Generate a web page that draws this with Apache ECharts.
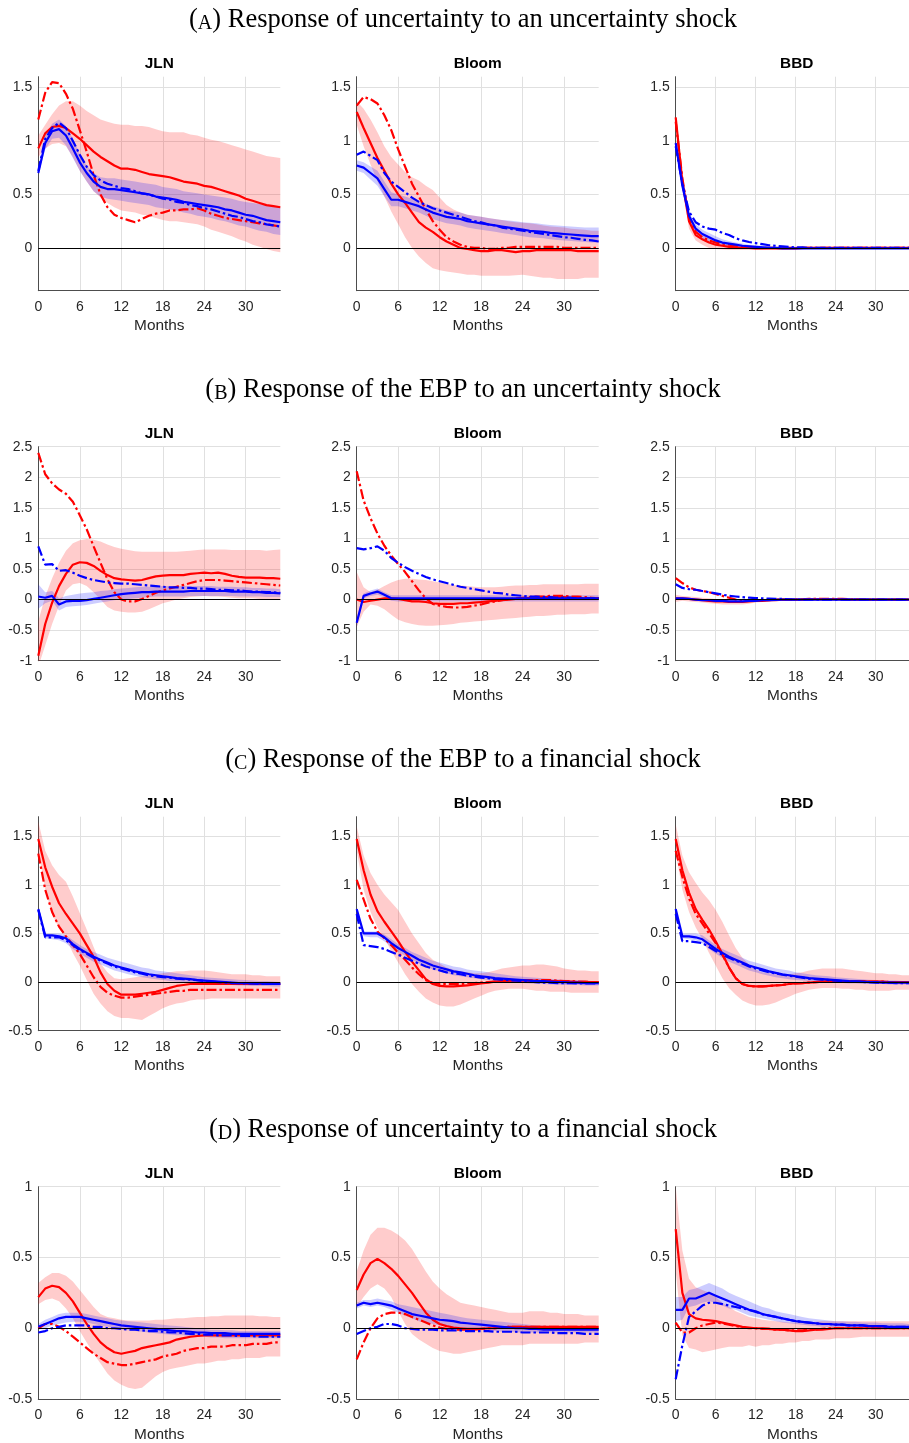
<!DOCTYPE html>
<html><head><meta charset="utf-8">
<script src="https://cdn.jsdelivr.net/npm/echarts@6/dist/echarts.min.js"></script>
<style>html,body{margin:0;padding:0;background:#fff;overflow:hidden}#c{width:909px;height:1443px}</style>
</head><body><div id="c"></div>
<script>
// ---------- DATA ----------
const months = [0,1,2,3,4,5,6,7,8,9,10,11,12,13,14,15,16,17,18,19,20,21,22,23,24,25,26,27,28,29,30,31,32,33,34,35];
const xTicks = [0,6,12,18,24,30];
const rowLetters = ['A','B','C','D'];
const rowTitles = ['Response of uncertainty to an uncertainty shock','Response of the EBP to an uncertainty shock','Response of the EBP to a financial shock','Response of uncertainty to a financial shock'];
const colNames = ['JLN','Bloom','BBD'];
const yMins = [-0.4,-1,-0.5,-0.5];
const yMaxs = [1.6,2.5,1.7,1];
const yTicks = [[0,0.5,1,1.5],[-1,-0.5,0,0.5,1,1.5,2,2.5],[-0.5,0,0.5,1,1.5],[-0.5,0,0.5,1]];

// (A) uncertainty -> uncertainty
const A_JLN_rSol=[0.93,1.07,1.13,1.14,1.12,1.07,1.02,0.96,0.90,0.85,0.81,0.77,0.74,0.74,0.73,0.71,0.69,0.68,0.67,0.66,0.64,0.62,0.61,0.60,0.58,0.57,0.55,0.53,0.51,0.49,0.46,0.44,0.42,0.40,0.39,0.38];
const A_JLN_rDd=[1.20,1.45,1.55,1.54,1.44,1.30,1.10,0.90,0.68,0.50,0.38,0.31,0.28,0.26,0.24,0.27,0.30,0.32,0.33,0.35,0.35,0.36,0.36,0.37,0.35,0.32,0.30,0.28,0.27,0.26,0.25,0.24,0.23,0.22,0.21,0.20];
const A_JLN_bSol=[0.70,0.98,1.09,1.11,1.05,0.93,0.80,0.70,0.62,0.57,0.55,0.55,0.54,0.53,0.52,0.51,0.50,0.48,0.47,0.46,0.45,0.43,0.42,0.41,0.40,0.39,0.38,0.36,0.35,0.33,0.31,0.30,0.28,0.26,0.25,0.24];
const A_JLN_bDd=[0.72,1.02,1.12,1.17,1.12,1.00,0.87,0.76,0.68,0.63,0.60,0.58,0.56,0.55,0.53,0.51,0.50,0.48,0.46,0.45,0.43,0.42,0.40,0.39,0.37,0.36,0.34,0.32,0.30,0.29,0.27,0.25,0.24,0.22,0.21,0.20];
const A_JLN_rHi=[1.05,1.15,1.25,1.33,1.37,1.37,1.33,1.28,1.24,1.20,1.18,1.16,1.15,1.15,1.14,1.14,1.13,1.11,1.09,1.08,1.08,1.08,1.06,1.05,1.03,1.01,1.00,0.98,0.96,0.94,0.92,0.90,0.88,0.86,0.85,0.84];
const A_JLN_rLo=[0.85,0.93,0.97,0.98,0.95,0.85,0.72,0.62,0.53,0.47,0.42,0.38,0.35,0.34,0.33,0.31,0.30,0.28,0.26,0.25,0.25,0.24,0.23,0.22,0.20,0.17,0.15,0.13,0.11,0.08,0.06,0.03,0.01,-0.01,-0.03,-0.04];
const A_JLN_bHi=[0.72,1.05,1.16,1.20,1.14,1.02,0.88,0.77,0.70,0.66,0.65,0.65,0.64,0.63,0.62,0.61,0.60,0.59,0.57,0.56,0.55,0.53,0.52,0.51,0.50,0.49,0.48,0.47,0.46,0.44,0.43,0.42,0.41,0.40,0.39,0.38];
const A_JLN_bLo=[0.68,0.92,1.02,1.03,0.96,0.84,0.72,0.62,0.53,0.48,0.46,0.45,0.44,0.43,0.42,0.41,0.40,0.38,0.37,0.36,0.35,0.33,0.32,0.30,0.29,0.28,0.26,0.25,0.23,0.21,0.20,0.18,0.16,0.15,0.13,0.12];

const A_Bloom_rSol=[1.27,1.12,0.98,0.84,0.72,0.60,0.50,0.42,0.33,0.24,0.19,0.15,0.10,0.06,0.03,0.00,-0.01,-0.02,-0.03,-0.03,-0.02,-0.02,-0.03,-0.04,-0.03,-0.03,-0.02,-0.02,-0.02,-0.02,-0.02,-0.02,-0.03,-0.03,-0.03,-0.03];
const A_Bloom_rDd=[1.33,1.41,1.39,1.35,1.24,1.10,0.92,0.76,0.60,0.48,0.36,0.25,0.17,0.10,0.06,0.03,0.01,0.00,0.00,-0.01,-0.01,0.00,0.00,0.01,0.01,0.01,0.01,0.01,0.01,0.01,0.00,0.00,0.00,0.00,0.00,0.00];
const A_Bloom_bSol=[0.77,0.75,0.70,0.65,0.55,0.45,0.45,0.43,0.41,0.39,0.36,0.33,0.31,0.29,0.28,0.27,0.25,0.24,0.23,0.22,0.21,0.20,0.19,0.18,0.17,0.16,0.155,0.15,0.14,0.135,0.13,0.125,0.12,0.115,0.11,0.11];
const A_Bloom_bDd=[0.87,0.90,0.86,0.82,0.70,0.62,0.57,0.52,0.47,0.43,0.40,0.37,0.35,0.33,0.31,0.29,0.27,0.25,0.24,0.22,0.21,0.19,0.18,0.17,0.16,0.15,0.14,0.13,0.12,0.11,0.10,0.095,0.085,0.075,0.07,0.06];
const A_Bloom_rHi=[1.37,1.30,1.20,1.08,0.95,0.85,0.78,0.71,0.66,0.63,0.58,0.54,0.47,0.40,0.36,0.33,0.31,0.30,0.29,0.28,0.27,0.26,0.25,0.24,0.235,0.23,0.22,0.21,0.20,0.195,0.19,0.18,0.175,0.17,0.16,0.16];
const A_Bloom_rLo=[1.15,0.95,0.78,0.62,0.48,0.34,0.22,0.10,0.00,-0.08,-0.14,-0.19,-0.21,-0.22,-0.23,-0.24,-0.25,-0.25,-0.26,-0.26,-0.26,-0.26,-0.26,-0.255,-0.25,-0.26,-0.27,-0.28,-0.28,-0.29,-0.29,-0.29,-0.29,-0.28,-0.28,-0.28];
const A_Bloom_bHi=[0.82,0.80,0.76,0.72,0.62,0.52,0.50,0.48,0.46,0.44,0.41,0.39,0.37,0.35,0.34,0.33,0.31,0.30,0.29,0.28,0.27,0.26,0.255,0.25,0.24,0.235,0.23,0.22,0.215,0.21,0.205,0.20,0.195,0.19,0.19,0.19];
const A_Bloom_bLo=[0.72,0.70,0.64,0.58,0.48,0.39,0.39,0.37,0.35,0.33,0.30,0.27,0.25,0.23,0.22,0.21,0.19,0.18,0.17,0.16,0.15,0.14,0.13,0.12,0.11,0.10,0.095,0.09,0.08,0.075,0.07,0.065,0.06,0.055,0.05,0.05];

const A_BBD_rSol=[1.22,0.62,0.25,0.12,0.08,0.05,0.03,0.02,0.01,0.005,0,0,-0.005,-0.005,-0.005,-0.005,-0.005,-0.005,-0.005,0,0,0,0,0,0,0,0,0,0,0,0,0,0,0,0,0];
const A_BBD_rDd=[1.18,0.65,0.28,0.15,0.10,0.07,0.05,0.04,0.03,0.02,0.015,0.01,0.005,0,0,0,0,0,0,0,0,0,0,0,0,0,0,0,0,0,0,0,0,0,0,0];
const A_BBD_bSol=[0.98,0.58,0.30,0.18,0.13,0.10,0.07,0.05,0.04,0.03,0.02,0.015,0.01,0.005,0,0,-0.005,-0.005,-0.005,-0.005,-0.005,-0.005,-0.005,-0.005,-0.005,-0.005,-0.005,-0.005,-0.005,-0.005,-0.005,-0.005,-0.005,-0.005,-0.005,-0.005];
const A_BBD_bDd=[0.95,0.60,0.34,0.24,0.20,0.18,0.17,0.14,0.12,0.09,0.07,0.055,0.045,0.035,0.025,0.02,0.015,0.01,0.005,0.005,0,0,0,0,0,0,0,0,0,0,0,0,0,0,0,0];
const A_BBD_rHi=[1.25,0.68,0.32,0.18,0.12,0.09,0.07,0.05,0.04,0.03,0.025,0.02,0.015,0.012,0.01,0.01,0.01,0.01,0.01,0.01,0.01,0.01,0.01,0.01,0.01,0.01,0.01,0.01,0.01,0.01,0.01,0.01,0.01,0.01,0.01,0.01];
const A_BBD_rLo=[1.15,0.55,0.18,0.07,0.03,0,-0.01,-0.015,-0.02,-0.02,-0.02,-0.02,-0.02,-0.02,-0.015,-0.015,-0.015,-0.015,-0.015,-0.015,-0.01,-0.01,-0.01,-0.01,-0.01,-0.01,-0.01,-0.01,-0.01,-0.01,-0.01,-0.01,-0.01,-0.01,-0.01,-0.01];
const A_BBD_bHi=[1.0,0.62,0.33,0.22,0.17,0.14,0.11,0.08,0.065,0.05,0.04,0.03,0.025,0.02,0.015,0.01,0.005,0.005,0.005,0.005,0.005,0.005,0.005,0.005,0.005,0.005,0.005,0.005,0.005,0.005,0.005,0.005,0.005,0.005,0.005,0.005];
const A_BBD_bLo=[0.95,0.54,0.27,0.14,0.09,0.06,0.04,0.025,0.015,0.005,0,-0.005,-0.01,-0.01,-0.01,-0.01,-0.01,-0.01,-0.01,-0.01,-0.01,-0.01,-0.01,-0.01,-0.01,-0.01,-0.01,-0.01,-0.01,-0.01,-0.01,-0.01,-0.01,-0.01,-0.01,-0.01];

// (B) uncertainty -> EBP
const B_JLN_rSol=[-0.92,-0.40,-0.05,0.22,0.42,0.57,0.61,0.60,0.55,0.47,0.40,0.35,0.33,0.32,0.31,0.32,0.35,0.38,0.39,0.40,0.40,0.40,0.42,0.43,0.44,0.43,0.44,0.42,0.39,0.37,0.36,0.36,0.36,0.35,0.35,0.34];
const B_JLN_rDd=[2.40,2.05,1.90,1.80,1.73,1.60,1.38,1.15,0.87,0.60,0.33,0.12,0.00,-0.03,-0.03,0.01,0.06,0.11,0.15,0.18,0.21,0.24,0.27,0.30,0.32,0.32,0.32,0.31,0.30,0.29,0.28,0.27,0.26,0.25,0.24,0.23];
const B_JLN_bSol=[0.05,0.03,0.06,-0.08,-0.03,-0.02,-0.02,-0.01,0.01,0.03,0.05,0.07,0.09,0.10,0.11,0.12,0.12,0.13,0.13,0.13,0.13,0.13,0.14,0.14,0.14,0.14,0.14,0.14,0.13,0.13,0.13,0.12,0.12,0.11,0.11,0.10];
const B_JLN_bDd=[0.87,0.57,0.58,0.47,0.48,0.44,0.39,0.35,0.32,0.30,0.28,0.27,0.26,0.26,0.25,0.24,0.23,0.22,0.21,0.20,0.20,0.19,0.19,0.18,0.18,0.17,0.16,0.16,0.15,0.15,0.14,0.13,0.13,0.12,0.12,0.11];
const B_JLN_rHi=[-0.35,0.05,0.35,0.60,0.80,0.92,0.97,0.99,0.98,0.95,0.90,0.86,0.83,0.81,0.79,0.78,0.78,0.78,0.78,0.78,0.78,0.79,0.80,0.81,0.82,0.82,0.82,0.82,0.81,0.81,0.81,0.81,0.81,0.80,0.81,0.82];
const B_JLN_rLo=[-1.1,-0.75,-0.40,-0.10,0.15,0.25,0.27,0.22,0.12,0.00,-0.12,-0.18,-0.20,-0.21,-0.21,-0.20,-0.16,-0.11,-0.06,-0.03,0.00,0.02,0.04,0.05,0.06,0.05,0.05,0.04,0.03,0.02,0.02,0.02,0.01,0.01,0.00,0.00];
const B_JLN_bHi=[0.25,0.12,0.14,0.02,0.06,0.08,0.10,0.11,0.12,0.14,0.15,0.17,0.18,0.19,0.20,0.21,0.21,0.21,0.22,0.22,0.22,0.22,0.22,0.22,0.22,0.22,0.21,0.21,0.21,0.20,0.20,0.19,0.19,0.18,0.18,0.17];
const B_JLN_bLo=[-0.15,-0.06,-0.02,-0.18,-0.12,-0.11,-0.10,-0.09,-0.07,-0.05,-0.03,-0.01,0.00,0.01,0.02,0.03,0.04,0.05,0.05,0.05,0.05,0.05,0.06,0.06,0.06,0.06,0.06,0.06,0.06,0.05,0.05,0.05,0.05,0.04,0.04,0.04];

const B_Bloom_rSol=[0.00,-0.04,-0.02,0.00,0.02,0.02,0.01,-0.01,-0.03,-0.03,-0.04,-0.06,-0.07,-0.07,-0.07,-0.06,-0.06,-0.05,-0.04,-0.03,-0.02,-0.01,0.00,0.01,0.02,0.03,0.03,0.04,0.04,0.04,0.04,0.03,0.03,0.02,0.02,0.02];
const B_Bloom_rDd=[2.10,1.62,1.33,1.08,0.88,0.72,0.58,0.45,0.30,0.15,0.02,-0.07,-0.10,-0.12,-0.13,-0.13,-0.12,-0.10,-0.08,-0.05,-0.03,-0.01,0.01,0.02,0.03,0.04,0.05,0.05,0.06,0.06,0.06,0.05,0.05,0.04,0.03,0.02];
const B_Bloom_bSol=[-0.38,0.06,0.10,0.13,0.08,0.02,0.02,0.02,0.02,0.02,0.02,0.02,0.02,0.02,0.02,0.02,0.02,0.02,0.02,0.02,0.02,0.02,0.02,0.02,0.02,0.02,0.02,0.02,0.02,0.02,0.02,0.02,0.02,0.02,0.02,0.02];
const B_Bloom_bDd=[0.84,0.82,0.84,0.87,0.80,0.68,0.60,0.53,0.47,0.42,0.37,0.33,0.30,0.27,0.24,0.21,0.19,0.17,0.15,0.13,0.11,0.10,0.08,0.07,0.06,0.05,0.05,0.04,0.04,0.03,0.03,0.03,0.02,0.02,0.02,0.02];
const B_Bloom_rHi=[0.45,0.20,0.12,0.16,0.22,0.28,0.32,0.34,0.34,0.33,0.32,0.30,0.28,0.26,0.24,0.23,0.22,0.21,0.20,0.20,0.20,0.21,0.22,0.23,0.23,0.24,0.24,0.25,0.25,0.25,0.25,0.25,0.25,0.26,0.26,0.26];
const B_Bloom_rLo=[-0.45,-0.20,-0.08,-0.10,-0.16,-0.25,-0.33,-0.37,-0.40,-0.42,-0.43,-0.43,-0.42,-0.41,-0.40,-0.38,-0.37,-0.36,-0.35,-0.34,-0.33,-0.32,-0.31,-0.30,-0.29,-0.28,-0.27,-0.27,-0.26,-0.25,-0.25,-0.24,-0.24,-0.24,-0.23,-0.23];
const B_Bloom_bHi=[-0.30,0.10,0.15,0.18,0.12,0.07,0.07,0.07,0.07,0.07,0.07,0.07,0.07,0.07,0.07,0.07,0.07,0.07,0.07,0.07,0.07,0.07,0.07,0.07,0.07,0.07,0.07,0.07,0.07,0.07,0.07,0.07,0.07,0.07,0.07,0.07];
const B_Bloom_bLo=[-0.46,0.02,0.06,0.08,0.04,-0.02,-0.03,-0.03,-0.03,-0.03,-0.03,-0.03,-0.03,-0.03,-0.03,-0.03,-0.03,-0.03,-0.03,-0.03,-0.03,-0.03,-0.03,-0.03,-0.03,-0.03,-0.03,-0.03,-0.03,-0.03,-0.03,-0.03,-0.03,-0.03,-0.03,-0.03];

const B_BBD_rSol=[0.02,0.02,0.01,0,-0.01,-0.02,-0.03,-0.03,-0.04,-0.04,-0.04,-0.03,-0.02,-0.02,-0.01,-0.01,0,0,0,0,0.005,0.005,0.005,0.005,0.005,0.005,0,0,0,0,0,0,0,0,0,0];
const B_BBD_rDd=[0.35,0.27,0.20,0.16,0.14,0.12,0.09,0.06,0.03,0,-0.02,-0.02,-0.02,-0.01,-0.01,0,0,0,0,0.005,0.01,0.01,0.01,0.01,0.01,0.01,0.005,0.005,0,0,0,0,0,0,0,0];
const B_BBD_bSol=[0.02,0.02,0.01,0,-0.01,-0.01,-0.02,-0.02,-0.03,-0.03,-0.03,-0.02,-0.02,-0.01,-0.01,-0.005,0,0,0,0,0,0,0,0,0,0,0,0,0,0,0,0,0,0,0,0];
const B_BBD_bDd=[0.25,0.19,0.17,0.16,0.14,0.12,0.10,0.08,0.06,0.05,0.04,0.03,0.025,0.02,0.015,0.01,0.01,0.005,0,0,0,0,0,0,0,0,0,0,0,0,0,0,0,0,0,0];
const B_BBD_rHi=[0.08,0.06,0.05,0.04,0.03,0.02,0.01,0,-0.005,-0.01,-0.01,0,0.005,0.01,0.01,0.015,0.015,0.015,0.015,0.015,0.02,0.02,0.02,0.02,0.02,0.015,0.015,0.015,0.01,0.01,0.01,0.01,0.01,0.01,0.01,0.01];
const B_BBD_rLo=[-0.04,-0.02,-0.03,-0.04,-0.05,-0.06,-0.07,-0.08,-0.08,-0.08,-0.08,-0.07,-0.05,-0.04,-0.03,-0.02,-0.02,-0.02,-0.02,-0.02,-0.015,-0.015,-0.01,-0.01,-0.01,-0.01,-0.01,-0.01,-0.01,-0.01,-0.01,-0.01,-0.01,-0.01,-0.01,-0.01];
const B_BBD_bHi=[0.035,0.035,0.025,0.015,0.005,0.005,-0.005,-0.005,-0.015,-0.015,-0.015,-0.005,-0.005,0.005,0.005,0.01,0.015,0.015,0.015,0.015,0.015,0.015,0.015,0.015,0.015,0.015,0.015,0.015,0.015,0.015,0.015,0.015,0.015,0.015,0.015,0.015];
const B_BBD_bLo=[0.005,0.005,-0.005,-0.015,-0.025,-0.025,-0.035,-0.035,-0.045,-0.045,-0.045,-0.035,-0.035,-0.025,-0.025,-0.02,-0.015,-0.015,-0.015,-0.015,-0.015,-0.015,-0.015,-0.015,-0.015,-0.015,-0.015,-0.015,-0.015,-0.015,-0.015,-0.015,-0.015,-0.015,-0.015,-0.015];

// (C) financial -> EBP
const C_JLN_rSol=[1.47,1.18,0.98,0.81,0.70,0.60,0.50,0.38,0.26,0.10,-0.02,-0.09,-0.13,-0.13,-0.13,-0.12,-0.11,-0.10,-0.08,-0.06,-0.04,-0.03,-0.02,-0.02,-0.02,-0.02,-0.02,-0.02,-0.02,-0.02,-0.02,-0.02,-0.02,-0.02,-0.02,-0.02];
const C_JLN_rDd=[1.32,0.95,0.72,0.57,0.47,0.38,0.29,0.17,0.05,-0.05,-0.11,-0.14,-0.16,-0.16,-0.15,-0.14,-0.13,-0.12,-0.11,-0.10,-0.09,-0.09,-0.08,-0.08,-0.08,-0.08,-0.08,-0.08,-0.08,-0.08,-0.08,-0.08,-0.08,-0.08,-0.08,-0.08];
const C_JLN_bSol=[0.75,0.48,0.48,0.47,0.45,0.39,0.34,0.30,0.26,0.23,0.20,0.17,0.15,0.13,0.11,0.095,0.08,0.07,0.06,0.05,0.04,0.035,0.03,0.02,0.015,0.01,0.005,0.0,-0.005,-0.01,-0.01,-0.015,-0.015,-0.02,-0.02,-0.02];
const C_JLN_bDd=[0.74,0.46,0.46,0.46,0.43,0.38,0.33,0.29,0.25,0.22,0.19,0.16,0.14,0.12,0.10,0.085,0.07,0.06,0.05,0.045,0.035,0.03,0.025,0.02,0.01,0.005,0.0,-0.005,-0.01,-0.01,-0.015,-0.015,-0.02,-0.02,-0.02,-0.02];
const C_JLN_rHi=[1.65,1.35,1.20,1.10,1.03,0.88,0.71,0.54,0.36,0.19,0.10,0.04,0.03,0.04,0.05,0.06,0.07,0.08,0.09,0.10,0.11,0.11,0.12,0.12,0.12,0.11,0.10,0.09,0.08,0.08,0.08,0.07,0.07,0.06,0.06,0.06];
const C_JLN_rLo=[1.35,0.95,0.70,0.55,0.45,0.30,0.17,0.02,-0.12,-0.22,-0.30,-0.35,-0.37,-0.37,-0.38,-0.39,-0.35,-0.31,-0.27,-0.24,-0.22,-0.21,-0.19,-0.18,-0.18,-0.17,-0.17,-0.17,-0.17,-0.17,-0.17,-0.17,-0.17,-0.17,-0.17,-0.17];
const C_JLN_bHi=[0.76,0.50,0.50,0.50,0.48,0.43,0.38,0.34,0.31,0.28,0.25,0.23,0.21,0.19,0.17,0.15,0.14,0.12,0.11,0.10,0.09,0.08,0.07,0.06,0.05,0.045,0.04,0.035,0.03,0.025,0.02,0.015,0.01,0.01,0.005,0.0];
const C_JLN_bLo=[0.73,0.45,0.44,0.43,0.40,0.34,0.29,0.25,0.21,0.18,0.15,0.12,0.10,0.08,0.065,0.05,0.04,0.03,0.02,0.01,0.005,0.0,-0.005,-0.01,-0.015,-0.02,-0.025,-0.03,-0.03,-0.035,-0.035,-0.04,-0.04,-0.04,-0.045,-0.045];

const C_Bloom_rSol=[1.47,1.15,0.90,0.73,0.62,0.52,0.42,0.31,0.21,0.12,0.03,-0.02,-0.04,-0.045,-0.045,-0.04,-0.035,-0.025,-0.015,-0.005,0.005,0.01,0.015,0.015,0.015,0.015,0.015,0.01,0.01,0.01,0.005,0.005,0,0,0,0];
const C_Bloom_rDd=[1.05,0.85,0.65,0.52,0.45,0.38,0.30,0.23,0.15,0.08,0.02,-0.01,-0.02,-0.02,-0.02,-0.02,-0.015,-0.01,-0.005,0,0.005,0.01,0.015,0.02,0.02,0.02,0.02,0.02,0.02,0.015,0.01,0.01,0.005,0.005,0,0];
const C_Bloom_bSol=[0.75,0.50,0.50,0.50,0.46,0.40,0.35,0.31,0.27,0.23,0.20,0.17,0.15,0.13,0.11,0.10,0.085,0.07,0.06,0.05,0.04,0.035,0.03,0.025,0.02,0.015,0.01,0.01,0.005,0,0,-0.005,-0.005,-0.01,-0.01,-0.01];
const C_Bloom_bDd=[0.70,0.38,0.37,0.36,0.34,0.31,0.28,0.25,0.22,0.19,0.16,0.14,0.12,0.10,0.09,0.08,0.065,0.055,0.045,0.04,0.03,0.025,0.02,0.015,0.01,0.005,0,-0.005,-0.005,-0.01,-0.01,-0.01,-0.015,-0.015,-0.015,-0.015];
const C_Bloom_rHi=[1.60,1.30,1.12,1.00,0.90,0.82,0.74,0.62,0.50,0.40,0.30,0.23,0.19,0.15,0.13,0.11,0.10,0.09,0.09,0.10,0.12,0.14,0.15,0.16,0.17,0.17,0.18,0.18,0.17,0.16,0.14,0.13,0.12,0.12,0.11,0.11];
const C_Bloom_rLo=[1.35,0.95,0.72,0.56,0.45,0.32,0.20,0.08,-0.02,-0.10,-0.17,-0.21,-0.24,-0.25,-0.25,-0.23,-0.20,-0.17,-0.14,-0.11,-0.09,-0.08,-0.07,-0.07,-0.07,-0.08,-0.09,-0.09,-0.10,-0.10,-0.10,-0.11,-0.11,-0.11,-0.11,-0.11];
const C_Bloom_bHi=[0.76,0.52,0.52,0.52,0.49,0.44,0.39,0.35,0.31,0.28,0.25,0.22,0.20,0.18,0.16,0.15,0.13,0.12,0.11,0.10,0.09,0.08,0.07,0.06,0.055,0.05,0.045,0.04,0.035,0.03,0.025,0.02,0.02,0.015,0.01,0.01];
const C_Bloom_bLo=[0.73,0.47,0.46,0.46,0.42,0.36,0.31,0.27,0.23,0.19,0.16,0.13,0.11,0.09,0.07,0.06,0.05,0.04,0.03,0.02,0.01,0.005,0,-0.005,-0.01,-0.015,-0.02,-0.02,-0.025,-0.025,-0.03,-0.03,-0.03,-0.035,-0.035,-0.035];

const C_BBD_rSol=[1.47,1.15,0.92,0.75,0.64,0.54,0.42,0.29,0.15,0.04,-0.02,-0.04,-0.045,-0.045,-0.04,-0.035,-0.03,-0.02,-0.015,-0.01,-0.005,0,0.005,0.01,0.01,0.01,0.01,0.01,0.01,0.005,0.005,0.005,0,0,0,0];
const C_BBD_rDd=[1.35,1.08,0.86,0.70,0.60,0.50,0.40,0.28,0.15,0.04,-0.02,-0.04,-0.045,-0.045,-0.04,-0.035,-0.03,-0.02,-0.015,-0.01,-0.005,0,0.005,0.01,0.01,0.01,0.01,0.01,0.01,0.005,0.005,0.005,0,0,0,0];
const C_BBD_bSol=[0.75,0.47,0.47,0.46,0.44,0.39,0.34,0.30,0.26,0.23,0.20,0.17,0.15,0.13,0.11,0.095,0.08,0.07,0.06,0.05,0.04,0.035,0.03,0.025,0.02,0.015,0.01,0.008,0.005,0,0,-0.005,-0.005,-0.005,-0.005,-0.005];
const C_BBD_bDd=[0.70,0.42,0.42,0.41,0.40,0.36,0.32,0.28,0.25,0.22,0.19,0.16,0.14,0.12,0.10,0.09,0.075,0.065,0.055,0.045,0.035,0.03,0.025,0.02,0.015,0.01,0.005,0.005,0,0,-0.005,-0.005,-0.005,-0.01,-0.01,-0.01];
const C_BBD_rHi=[1.62,1.30,1.13,1.02,0.92,0.84,0.74,0.62,0.48,0.35,0.25,0.18,0.13,0.10,0.09,0.08,0.08,0.08,0.09,0.10,0.12,0.13,0.14,0.14,0.14,0.14,0.13,0.12,0.11,0.10,0.09,0.09,0.08,0.08,0.07,0.07];
const C_BBD_rLo=[1.33,0.95,0.72,0.56,0.44,0.30,0.17,0.04,-0.06,-0.13,-0.19,-0.22,-0.24,-0.24,-0.23,-0.21,-0.18,-0.15,-0.12,-0.10,-0.08,-0.07,-0.06,-0.06,-0.06,-0.07,-0.07,-0.08,-0.08,-0.09,-0.09,-0.09,-0.09,-0.08,-0.08,-0.08];
const C_BBD_bHi=[0.76,0.50,0.50,0.50,0.48,0.43,0.38,0.34,0.31,0.28,0.25,0.22,0.20,0.18,0.16,0.14,0.13,0.12,0.10,0.09,0.08,0.07,0.065,0.06,0.05,0.045,0.04,0.035,0.03,0.025,0.02,0.02,0.015,0.015,0.01,0.01];
const C_BBD_bLo=[0.73,0.45,0.44,0.43,0.40,0.34,0.29,0.25,0.21,0.18,0.15,0.12,0.10,0.08,0.065,0.05,0.04,0.03,0.02,0.015,0.01,0.005,0,-0.005,-0.01,-0.01,-0.015,-0.015,-0.02,-0.02,-0.02,-0.02,-0.025,-0.025,-0.025,-0.025];

// (D) financial -> uncertainty
const D_JLN_rSol=[0.22,0.28,0.30,0.29,0.25,0.19,0.11,0.03,-0.04,-0.10,-0.14,-0.17,-0.18,-0.17,-0.16,-0.14,-0.13,-0.12,-0.11,-0.10,-0.08,-0.07,-0.06,-0.055,-0.05,-0.05,-0.05,-0.05,-0.05,-0.05,-0.05,-0.05,-0.05,-0.05,-0.05,-0.05];
const D_JLN_rDd=[0.00,0.03,0.03,0.01,-0.02,-0.06,-0.10,-0.14,-0.18,-0.21,-0.24,-0.25,-0.26,-0.26,-0.25,-0.24,-0.23,-0.22,-0.20,-0.19,-0.18,-0.16,-0.15,-0.14,-0.14,-0.13,-0.13,-0.13,-0.12,-0.12,-0.12,-0.11,-0.11,-0.11,-0.10,-0.10];
const D_JLN_bSol=[0.01,0.03,0.05,0.07,0.08,0.08,0.08,0.07,0.06,0.05,0.04,0.03,0.02,0.015,0.01,0.005,0,-0.005,-0.01,-0.015,-0.02,-0.02,-0.025,-0.03,-0.03,-0.035,-0.035,-0.035,-0.04,-0.04,-0.04,-0.04,-0.04,-0.04,-0.04,-0.04];
const D_JLN_bDd=[-0.03,-0.02,0.00,0.01,0.02,0.02,0.02,0.02,0.01,0.01,0,0,-0.005,-0.01,-0.01,-0.015,-0.02,-0.02,-0.025,-0.03,-0.03,-0.035,-0.04,-0.04,-0.045,-0.045,-0.05,-0.05,-0.05,-0.055,-0.055,-0.055,-0.06,-0.06,-0.06,-0.06];
const D_JLN_rHi=[0.32,0.36,0.39,0.39,0.37,0.33,0.27,0.21,0.15,0.10,0.08,0.07,0.06,0.055,0.055,0.055,0.055,0.06,0.06,0.065,0.07,0.07,0.075,0.08,0.08,0.085,0.085,0.09,0.09,0.09,0.09,0.09,0.085,0.085,0.08,0.08];
const D_JLN_rLo=[0.17,0.20,0.21,0.19,0.14,0.07,-0.02,-0.10,-0.18,-0.25,-0.32,-0.37,-0.40,-0.42,-0.43,-0.42,-0.38,-0.34,-0.31,-0.29,-0.28,-0.27,-0.26,-0.25,-0.25,-0.24,-0.23,-0.23,-0.22,-0.22,-0.21,-0.21,-0.21,-0.20,-0.20,-0.20];
const D_JLN_bHi=[0.03,0.06,0.08,0.10,0.11,0.11,0.11,0.10,0.09,0.08,0.07,0.06,0.055,0.05,0.045,0.04,0.035,0.03,0.025,0.02,0.015,0.01,0.005,0,-0.005,-0.01,-0.01,-0.015,-0.015,-0.02,-0.02,-0.02,-0.02,-0.02,-0.02,-0.02];
const D_JLN_bLo=[-0.01,0.00,0.02,0.03,0.04,0.045,0.045,0.04,0.03,0.02,0.01,0,-0.01,-0.015,-0.02,-0.025,-0.03,-0.035,-0.04,-0.045,-0.05,-0.05,-0.055,-0.06,-0.06,-0.065,-0.065,-0.07,-0.07,-0.07,-0.07,-0.07,-0.07,-0.07,-0.07,-0.07];

const D_Bloom_rSol=[0.27,0.38,0.46,0.49,0.46,0.42,0.37,0.31,0.25,0.18,0.11,0.06,0.03,0.015,0.005,0,-0.005,-0.005,-0.005,0,0,0.005,0.01,0.01,0.01,0.01,0.01,0.01,0.01,0.01,0.01,0.01,0.01,0.01,0.01,0.01];
const D_Bloom_rDd=[-0.22,-0.10,0.00,0.07,0.10,0.11,0.11,0.10,0.08,0.06,0.04,0.02,0.005,-0.005,-0.01,-0.01,-0.01,-0.01,-0.005,0,0,0.005,0.01,0.01,0.01,0.01,0.01,0.01,0.01,0.01,0.01,0.01,0.01,0.01,0.01,0.01];
const D_Bloom_bSol=[0.16,0.18,0.17,0.18,0.17,0.16,0.14,0.12,0.10,0.09,0.08,0.07,0.06,0.055,0.05,0.04,0.035,0.03,0.025,0.02,0.015,0.01,0.005,0,0,-0.005,-0.005,-0.01,-0.01,-0.01,-0.01,-0.01,-0.01,-0.01,-0.01,-0.01];
const D_Bloom_bDd=[-0.04,-0.02,0.00,0.01,0.03,0.03,0.02,0.00,-0.005,-0.01,-0.01,-0.01,-0.015,-0.015,-0.015,-0.015,-0.02,-0.02,-0.02,-0.02,-0.025,-0.025,-0.025,-0.025,-0.03,-0.03,-0.03,-0.03,-0.03,-0.035,-0.035,-0.035,-0.035,-0.04,-0.04,-0.04];
const D_Bloom_rHi=[0.40,0.55,0.66,0.71,0.71,0.69,0.66,0.62,0.56,0.48,0.40,0.33,0.28,0.24,0.21,0.18,0.17,0.16,0.15,0.14,0.13,0.12,0.11,0.11,0.11,0.12,0.12,0.12,0.11,0.11,0.10,0.10,0.10,0.09,0.09,0.09];
const D_Bloom_rLo=[0.15,0.22,0.28,0.31,0.28,0.22,0.12,0.03,-0.04,-0.08,-0.11,-0.14,-0.16,-0.17,-0.18,-0.18,-0.17,-0.16,-0.15,-0.14,-0.13,-0.12,-0.12,-0.12,-0.12,-0.11,-0.11,-0.11,-0.11,-0.11,-0.11,-0.11,-0.11,-0.10,-0.10,-0.10];
const D_Bloom_bHi=[0.18,0.20,0.20,0.21,0.20,0.19,0.17,0.16,0.15,0.14,0.13,0.12,0.11,0.10,0.09,0.08,0.07,0.065,0.06,0.055,0.05,0.045,0.04,0.035,0.03,0.025,0.02,0.02,0.015,0.01,0.01,0.01,0.01,0.01,0.01,0.01];
const D_Bloom_bLo=[0.14,0.16,0.15,0.16,0.15,0.13,0.11,0.09,0.07,0.05,0.04,0.03,0.02,0.015,0.01,0.005,0,-0.005,-0.01,-0.015,-0.02,-0.025,-0.025,-0.03,-0.03,-0.03,-0.03,-0.03,-0.03,-0.03,-0.03,-0.03,-0.03,-0.03,-0.03,-0.03];

const D_BBD_rSol=[0.70,0.25,0.10,0.07,0.06,0.055,0.05,0.04,0.03,0.02,0.01,0.005,0,0,-0.005,-0.01,-0.01,-0.015,-0.02,-0.02,-0.015,-0.01,-0.01,-0.005,0,0,0,0,0,0,0,0,0,0,0,0];
const D_BBD_rDd=[0.04,-0.03,-0.03,0.00,0.02,0.03,0.04,0.035,0.025,0.015,0.005,0,0,-0.005,-0.005,-0.01,-0.01,-0.015,-0.015,-0.015,-0.01,-0.01,-0.005,0,0,0,0,0,0,0,0,0,0,0,0,0];
const D_BBD_bSol=[0.13,0.13,0.21,0.21,0.23,0.25,0.23,0.21,0.19,0.17,0.15,0.13,0.12,0.10,0.09,0.08,0.07,0.06,0.05,0.045,0.04,0.035,0.03,0.03,0.025,0.025,0.02,0.02,0.02,0.015,0.015,0.015,0.01,0.01,0.01,0.01];
const D_BBD_bDd=[-0.36,-0.12,0.08,0.12,0.16,0.18,0.18,0.17,0.16,0.15,0.14,0.13,0.115,0.10,0.09,0.08,0.07,0.06,0.05,0.045,0.04,0.035,0.03,0.03,0.025,0.025,0.02,0.02,0.02,0.015,0.015,0.015,0.01,0.01,0.01,0.01];
const D_BBD_rHi=[1.00,0.55,0.35,0.29,0.27,0.25,0.22,0.18,0.15,0.12,0.10,0.08,0.07,0.06,0.055,0.05,0.045,0.04,0.04,0.04,0.04,0.045,0.05,0.05,0.05,0.05,0.05,0.05,0.05,0.05,0.05,0.05,0.05,0.05,0.05,0.05];
const D_BBD_rLo=[0.40,-0.05,-0.14,-0.15,-0.17,-0.16,-0.15,-0.14,-0.13,-0.13,-0.13,-0.12,-0.13,-0.12,-0.12,-0.11,-0.11,-0.10,-0.10,-0.09,-0.09,-0.08,-0.08,-0.08,-0.07,-0.07,-0.07,-0.065,-0.06,-0.06,-0.06,-0.06,-0.06,-0.06,-0.06,-0.06];
const D_BBD_bHi=[0.22,0.22,0.27,0.28,0.30,0.32,0.30,0.28,0.25,0.23,0.21,0.19,0.17,0.15,0.14,0.12,0.11,0.10,0.09,0.08,0.07,0.065,0.06,0.055,0.05,0.05,0.045,0.045,0.04,0.04,0.04,0.035,0.035,0.035,0.035,0.03];
const D_BBD_bLo=[0.05,0.06,0.15,0.16,0.18,0.19,0.18,0.16,0.14,0.13,0.11,0.09,0.08,0.07,0.06,0.05,0.04,0.035,0.03,0.025,0.02,0.015,0.01,0.01,0.005,0.005,0,0,0,0,0,-0.005,-0.005,-0.005,-0.005,-0.005];

// panel order: [rLo, rHi, rSol, rDd, bLo, bHi, bSol, bDd]
const panels = [
  [A_JLN_rLo,A_JLN_rHi,A_JLN_rSol,A_JLN_rDd,A_JLN_bLo,A_JLN_bHi,A_JLN_bSol,A_JLN_bDd],
  [A_Bloom_rLo,A_Bloom_rHi,A_Bloom_rSol,A_Bloom_rDd,A_Bloom_bLo,A_Bloom_bHi,A_Bloom_bSol,A_Bloom_bDd],
  [A_BBD_rLo,A_BBD_rHi,A_BBD_rSol,A_BBD_rDd,A_BBD_bLo,A_BBD_bHi,A_BBD_bSol,A_BBD_bDd],
  [B_JLN_rLo,B_JLN_rHi,B_JLN_rSol,B_JLN_rDd,B_JLN_bLo,B_JLN_bHi,B_JLN_bSol,B_JLN_bDd],
  [B_Bloom_rLo,B_Bloom_rHi,B_Bloom_rSol,B_Bloom_rDd,B_Bloom_bLo,B_Bloom_bHi,B_Bloom_bSol,B_Bloom_bDd],
  [B_BBD_rLo,B_BBD_rHi,B_BBD_rSol,B_BBD_rDd,B_BBD_bLo,B_BBD_bHi,B_BBD_bSol,B_BBD_bDd],
  [C_JLN_rLo,C_JLN_rHi,C_JLN_rSol,C_JLN_rDd,C_JLN_bLo,C_JLN_bHi,C_JLN_bSol,C_JLN_bDd],
  [C_Bloom_rLo,C_Bloom_rHi,C_Bloom_rSol,C_Bloom_rDd,C_Bloom_bLo,C_Bloom_bHi,C_Bloom_bSol,C_Bloom_bDd],
  [C_BBD_rLo,C_BBD_rHi,C_BBD_rSol,C_BBD_rDd,C_BBD_bLo,C_BBD_bHi,C_BBD_bSol,C_BBD_bDd],
  [D_JLN_rLo,D_JLN_rHi,D_JLN_rSol,D_JLN_rDd,D_JLN_bLo,D_JLN_bHi,D_JLN_bSol,D_JLN_bDd],
  [D_Bloom_rLo,D_Bloom_rHi,D_Bloom_rSol,D_Bloom_rDd,D_Bloom_bLo,D_Bloom_bHi,D_Bloom_bSol,D_Bloom_bDd],
  [D_BBD_rLo,D_BBD_rHi,D_BBD_rSol,D_BBD_rDd,D_BBD_bLo,D_BBD_bHi,D_BBD_bSol,D_BBD_bDd]
];

// ---------- LAYOUT / STYLE ----------
const colLeft = [38.3, 356.7, 675.7];
const plotW = 242;
const rowTop = [76.7, 446.7, 816.7, 1186.7];
const plotH = 214;
const sectionY = [20, 390, 760, 1130];
const SANS = '"Liberation Sans", Arial, Helvetica, sans-serif';
const SERIF = '"Liberation Serif", "Times New Roman", serif';
const RED = '#ff0000', BLUE = '#0000ff';
const DASHDOT = [10, 3, 2.5, 3];
const LW = 2.2;

const grids = [], xAxes = [], yAxes = [], series = [], graphics = [];

function pts(arr) { return months.map((m, i) => [m, arr[i]]); }

// band polygon between lo and hi, positioned through the axis scales (api.coord)
function bandSeries(idx, lo, hi, color) {
  return {
    type: 'custom', xAxisIndex: idx, yAxisIndex: idx, silent: true, animation: false, clip: true,
    data: [[months[0], lo[0]]],
    renderItem: function (params, api) {
      const top = months.map((m, i) => api.coord([m, hi[i]]));
      const bot = months.map((m, i) => api.coord([m, lo[i]])).reverse();
      return { type: 'polygon', shape: { points: top.concat(bot) }, style: { fill: color, stroke: null } };
    }
  };
}

for (let r = 0; r < 4; r++) {
  graphics.push({
    type: 'text', x: 463, y: sectionY[r], silent: true,
    style: {
      text: '({sc|' + rowLetters[r] + '}) ' + rowTitles[r],
      fontFamily: SERIF, fontSize: 26.5, fill: '#000',
      align: 'center', verticalAlign: 'middle', textAlign: 'center', textVerticalAlign: 'middle',
      rich: { sc: { fontFamily: SERIF, fontSize: 20, fill: '#000', verticalAlign: 'bottom' } }
    }
  });
  for (let c = 0; c < 3; c++) {
    const idx = r * 3 + c;
    const d = panels[idx];
    grids.push({ left: colLeft[c], top: rowTop[r], width: plotW, height: plotH, containLabel: false });
    graphics.push({
      type: 'text', x: colLeft[c] + plotW / 2, y: rowTop[r] - 12.5, silent: true,
      style: { text: colNames[c], fontFamily: SANS, fontSize: 15.4, fontWeight: 'bold', fill: '#000',
        align: 'center', verticalAlign: 'middle', textAlign: 'center', textVerticalAlign: 'middle' }
    });
    xAxes.push({
      gridIndex: idx, type: 'value', min: 0, max: 35,
      name: 'Months', nameLocation: 'middle', nameGap: 28,
      nameTextStyle: { fontFamily: SANS, fontSize: 15.4, color: '#262626' },
      axisLine: { show: true, onZero: false, lineStyle: { color: '#4d4d4d', width: 1 } },
      axisTick: { show: false, customValues: xTicks },
      axisLabel: { show: true, customValues: xTicks, margin: 9, fontFamily: SANS, fontSize: 14, color: '#262626' },
      splitLine: { show: true, lineStyle: { color: '#e0e0e0', width: 1 } }
    });
    yAxes.push({
      gridIndex: idx, type: 'value', min: yMins[r], max: yMaxs[r],
      axisLine: { show: true, onZero: false, lineStyle: { color: '#4d4d4d', width: 1 } },
      axisTick: { show: false, customValues: yTicks[r] },
      axisLabel: { show: true, customValues: yTicks[r], margin: 6, fontFamily: SANS, fontSize: 14, color: '#262626' },
      splitLine: { show: true, lineStyle: { color: '#e0e0e0', width: 1 } }
    });
    const base = { type: 'line', xAxisIndex: idx, yAxisIndex: idx, symbol: 'none', silent: true, animation: false, clip: true };
    // red band
    series.push(bandSeries(idx, d[0], d[1], 'rgba(255,0,0,0.2)'));
    // zero line + red lines
    series.push(Object.assign({}, base, { data: pts(d[2]), lineStyle: { color: RED, width: LW, type: 'solid' },
      markLine: { silent: true, symbol: ['none', 'none'], label: { show: false }, animation: false,
        lineStyle: { color: '#000', width: 1, type: 'solid' }, data: [{ yAxis: 0 }] } }));
    series.push(Object.assign({}, base, { data: pts(d[3]), lineStyle: { color: RED, width: LW, type: DASHDOT } }));
    // blue band
    series.push(bandSeries(idx, d[4], d[5], 'rgba(0,0,255,0.2)'));
    // blue lines
    series.push(Object.assign({}, base, { data: pts(d[6]), lineStyle: { color: BLUE, width: LW, type: 'solid' } }));
    series.push(Object.assign({}, base, { data: pts(d[7]), lineStyle: { color: BLUE, width: LW, type: DASHDOT } }));
  }
}

const chart = echarts.init(document.getElementById('c'), null, { renderer: 'canvas' });
chart.setOption({
  animation: false,
  backgroundColor: '#ffffff',
  grid: grids, xAxis: xAxes, yAxis: yAxes, series: series, graphic: graphics
});
</script>
</body></html>
